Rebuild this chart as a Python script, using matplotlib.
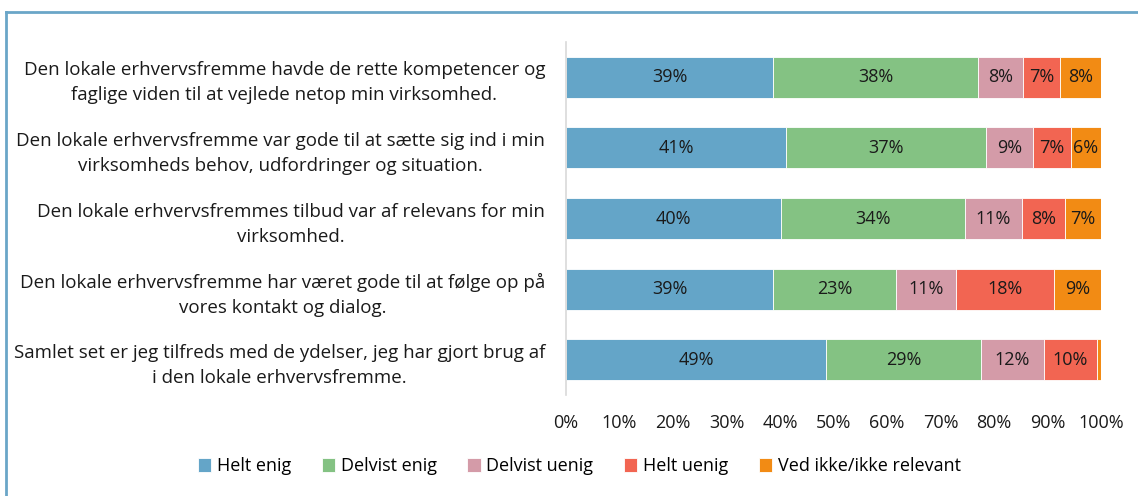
import numpy as np
import matplotlib.pyplot as plt
from matplotlib.lines import Line2D

plt.rcParams['font.family'] = ['Open Sans', 'DejaVu Sans']

statements = [
    'Den lokale erhvervsfremme havde de rette kompetencer og\nfaglige viden til at vejlede netop min virksomhed.',
    'Den lokale erhvervsfremme var gode til at sætte sig ind i min\nvirksomheds behov, udfordringer og situation.',
    'Den lokale erhvervsfremmes tilbud var af relevans for min\nvirksomhed.',
    'Den lokale erhvervsfremme har været gode til at følge op på\nvores kontakt og dialog.',
    'Samlet set er jeg tilfreds med de ydelser, jeg har gjort brug af\ni den lokale erhvervsfremme.',
]
answers = ['Helt enig', 'Delvist enig', 'Delvist uenig', 'Helt uenig', 'Ved ikke/ikke relevant']

# percentages per answer, one value per statement (top to bottom)
helt_enig = [38.7, 41.1, 40.2, 38.7, 48.6]
delvist_enig = [38.3, 37.4, 34.4, 22.9, 29.0]
delvist_uenig = [8.4, 8.7, 10.6, 11.3, 11.7]
helt_uenig = [7.0, 7.2, 8.1, 18.4, 10.0]
ved_ikke = [7.6, 5.6, 6.7, 8.7, 0.7]

colors = ['#64A5C8', '#84C283', '#D49BA8', '#F26552', '#F28B14']

series = [helt_enig, delvist_enig, delvist_uenig, helt_uenig, ved_ikke]

fig = plt.figure(figsize=(11.38, 4.96), dpi=100)
ax = fig.add_axes([0.4974, 0.2036, 0.4701, 0.7117])

y = np.arange(len(statements))
left = np.zeros(len(statements))
for name, vals, col in zip(answers, series, colors):
    vals = np.array(vals)
    bars = ax.barh(y, vals, left=left, height=0.58, color=col, label=name,
                   edgecolor='white', linewidth=0.6)
    for b, v in zip(bars, vals):
        if v >= 3:
            ax.text(b.get_x() + b.get_width() / 2, b.get_y() + b.get_height() / 2,
                    f'{round(v):.0f}%', ha='center', va='center', fontsize=13, color='#1a1a1a')
    left += vals

ax.set_xlim(0, 100)
ax.set_ylim(len(statements) - 0.5, -0.5)
ax.set_xticks(np.arange(0, 101, 10))
ax.set_xticklabels([f'{t}%' for t in range(0, 101, 10)], fontsize=13, color='#1a1a1a')
ax.set_yticks(y)
ax.set_yticklabels(statements, fontsize=13.5, color='#1a1a1a', multialignment='center',
                   linespacing=1.5)
ax.tick_params(axis='both', length=0)
ax.tick_params(axis='x', pad=14)
ax.tick_params(axis='y', pad=15)
for s in ['top', 'right', 'bottom']:
    ax.spines[s].set_visible(False)
ax.spines['left'].set_color('#D9D9D9')
ax.spines['left'].set_linewidth(1.2)

fig.legend(loc='center', bbox_to_anchor=(0.509, 0.06), ncol=5, frameon=False,
           fontsize=13, handlelength=0.75, handleheight=0.75, handletextpad=0.3,
           columnspacing=1.7)

# blue frame (top and left edges)
fig.add_artist(Line2D([6 / 1138, 6 / 1138], [0, 1 - 12 / 496], color='#6AA6C8', lw=2,
                      transform=fig.transFigure))
fig.add_artist(Line2D([6 / 1138, 1], [1 - 12 / 496, 1 - 12 / 496], color='#6AA6C8', lw=2,
                      transform=fig.transFigure))

fig.savefig('out.png', dpi=100)
